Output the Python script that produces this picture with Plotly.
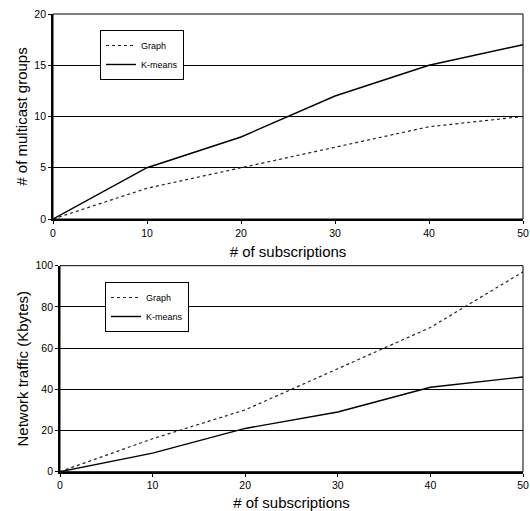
import plotly.graph_objects as go

x_subs = [0, 10, 20, 30, 40, 50]
groups_graph = [0, 3, 5, 7, 9, 10]
groups_kmeans = [0, 5, 8, 12, 15, 17]
traffic_graph = [0, 16, 30, 50, 70, 97]
traffic_kmeans = [0, 9, 21, 29, 41, 46]

W, H = 530, 511
def px(v): return v / W
def py(v): return 1 - v / H

fig = go.Figure()
dot = "3px,3px"
fig.add_trace(go.Scatter(x=x_subs, y=groups_graph, mode="lines", name="Graph",
                         line=dict(color="#222", width=1.2, dash=dot), xaxis="x", yaxis="y", legend="legend"))
fig.add_trace(go.Scatter(x=x_subs, y=groups_kmeans, mode="lines", name="K-means",
                         line=dict(color="black", width=1.4), xaxis="x", yaxis="y", legend="legend"))
fig.add_trace(go.Scatter(x=x_subs, y=traffic_graph, mode="lines", name="Graph",
                         line=dict(color="#222", width=1.2, dash=dot), xaxis="x2", yaxis="y2", legend="legend2"))
fig.add_trace(go.Scatter(x=x_subs, y=traffic_kmeans, mode="lines", name="K-means",
                         line=dict(color="black", width=1.4), xaxis="x2", yaxis="y2", legend="legend2"))

font = dict(family="Liberation Sans, Arial, sans-serif", color="black")
axcommon = dict(showline=True, linecolor="black", linewidth=1.8, mirror=False, ticks="outside",
                ticklen=3, tickcolor="black", tickfont=dict(size=10.5, **font), zeroline=False,
                automargin=False)
titlefont = dict(size=15, **font)

legcommon = dict(bgcolor="white", bordercolor="black", borderwidth=1, font=dict(size=9, **font),
                 xanchor="left", yanchor="top", tracegroupgap=0, itemwidth=30)

fig.update_layout(
    width=W, height=H, margin=dict(l=0, r=0, t=0, b=0, autoexpand=False),
    paper_bgcolor="white", plot_bgcolor="white", font=font,
    xaxis=dict(domain=[px(53), px(523)], range=[0, 50], dtick=10, anchor="y", showgrid=False,
               title=dict(text="# of subscriptions", font=titlefont, standoff=9), **axcommon),
    yaxis=dict(domain=[py(219), py(14)], range=[0, 20], dtick=5, anchor="x", showgrid=True,
               gridcolor="black", gridwidth=0.8,
               title=dict(text="# of multicast groups", font=titlefont, standoff=3), **axcommon),
    xaxis2=dict(domain=[px(60), px(523)], range=[0, 50], dtick=10, anchor="y2", showgrid=False,
                title=dict(text="# of subscriptions", font=titlefont, standoff=9), **axcommon),
    yaxis2=dict(domain=[py(471.7), py(265.7)], range=[0, 100], dtick=20, anchor="x2", showgrid=True,
                gridcolor="black", gridwidth=0.8,
                title=dict(text="Network traffic (Kbytes)", font=titlefont, standoff=3), **axcommon),
    legend=dict(x=px(100), y=py(30), **legcommon),
    legend2=dict(x=px(105), y=py(282), **legcommon),
    shapes=[
        dict(type="rect", xref="x domain", yref="y domain", x0=0, x1=1, y0=0, y1=1,
             line=dict(color="black", width=1)),
        dict(type="rect", xref="x2 domain", yref="y2 domain", x0=0, x1=1, y0=0, y1=1,
             line=dict(color="black", width=1)),
    ],
)

fig.write_html("out.html", config={"displayModeBar": False},
               post_script="document.body.style.margin='0';document.body.style.overflow='hidden';")
